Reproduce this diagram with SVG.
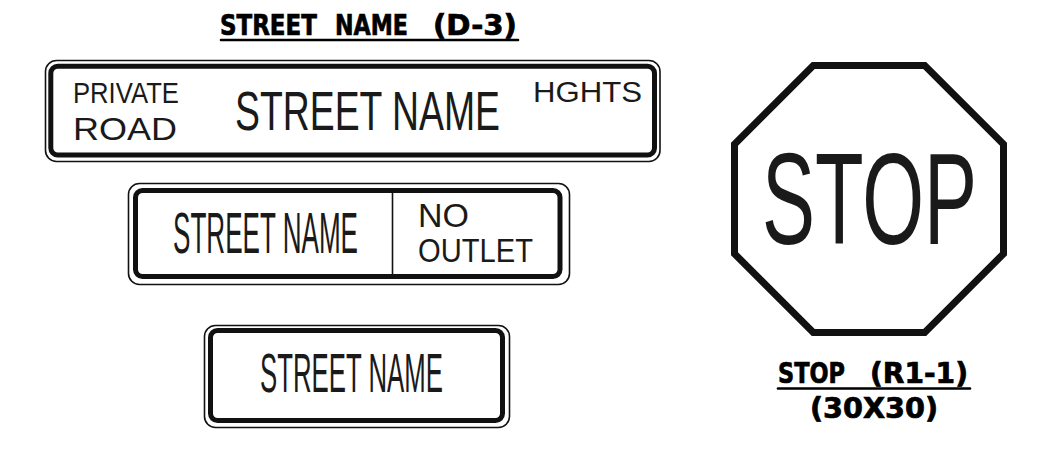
<svg xmlns="http://www.w3.org/2000/svg" width="1039" height="461" viewBox="0 0 1039 461">
<style>
.thin{fill:none;stroke:#111;stroke-width:1.6}
.thick{fill:none;stroke:#111;stroke-width:5}
.div{stroke:#111;stroke-width:1.6}
.sign{font-family:"Liberation Sans",Arial,sans-serif;fill:#1a1a1a}
.lbl{font-family:"DejaVu Sans","Liberation Sans",sans-serif;font-weight:bold;fill:#000;stroke:#000;stroke-width:0.7;font-size:27.5px}
.ul{stroke:#000;stroke-width:2.6;stroke-linecap:round}
.oct{fill:#fff;stroke:#111;stroke-width:7;stroke-linejoin:miter}
</style>
<rect width="1039" height="461" fill="#fff"/>
<g id="title">
<text class="lbl" transform="translate(220,35) scale(0.85,1)" textLength="114" lengthAdjust="spacingAndGlyphs">STREET</text>
<text class="lbl" transform="translate(335,35) scale(0.82,1)" textLength="89" lengthAdjust="spacingAndGlyphs">NAME</text>
<text class="lbl" transform="translate(433,35) scale(1.09,1)" textLength="77" lengthAdjust="spacingAndGlyphs">(D-3)</text>
<line class="ul" x1="221" y1="40" x2="518" y2="40"/>
</g>
<g id="sign1">
<rect class="thin" x="45.5" y="60.5" width="614.5" height="101" rx="11"/>
<rect class="thick" x="50.8" y="66.3" width="603.7" height="88.7" rx="7"/>
<text class="sign" font-size="29" transform="translate(73,103) scale(0.854,1)" textLength="124" lengthAdjust="spacingAndGlyphs">PRIVATE</text>
<text class="sign" font-size="31" transform="translate(73,140) scale(1.16,1)" textLength="89.6" lengthAdjust="spacingAndGlyphs">ROAD</text>
<text class="sign" font-size="56" transform="translate(235,130) scale(0.665,1)" textLength="398.5" lengthAdjust="spacingAndGlyphs">STREET NAME</text>
<text class="sign" font-size="30" transform="translate(533,102) scale(1.038,1)" textLength="105" lengthAdjust="spacingAndGlyphs">HGHTS</text>
</g>
<g id="sign2">
<rect class="thin" x="128.5" y="183.5" width="441" height="101" rx="11"/>
<rect class="thick" x="135.5" y="190.5" width="424.5" height="86" rx="7"/>
<line class="div" x1="392.5" y1="193" x2="392.5" y2="275"/>
<text class="sign" font-size="57" transform="translate(173,253) scale(0.456,1)" textLength="405.7" lengthAdjust="spacingAndGlyphs">STREET NAME</text>
<text class="sign" font-size="33" transform="translate(418,227) scale(1.03,1)" textLength="49.5" lengthAdjust="spacingAndGlyphs">NO</text>
<text class="sign" font-size="33" transform="translate(418,262) scale(0.883,1)" textLength="130.2" lengthAdjust="spacingAndGlyphs">OUTLET</text>
</g>
<g id="sign3">
<rect class="thin" x="204.5" y="325.5" width="305" height="102" rx="11"/>
<rect class="thick" x="210.5" y="330.5" width="292" height="90" rx="7"/>
<text class="sign" font-size="55" transform="translate(260,392) scale(0.468,1)" textLength="391" lengthAdjust="spacingAndGlyphs">STREET NAME</text>
</g>
<g id="stop">
<polygon class="oct" points="813.3,65.5 924.7,65.5 1003.5,144.3 1003.5,253.7 924.7,332.5 813.3,332.5 734.5,253.7 734.5,144.3"/>
<text class="sign" font-size="130" transform="translate(762,244) scale(0.607,1)" textLength="354.2" lengthAdjust="spacingAndGlyphs">STOP</text>
</g>
<g id="stop-label">
<text class="lbl" transform="translate(778,383) scale(0.83,1)" textLength="80.7" lengthAdjust="spacingAndGlyphs">STOP</text>
<text class="lbl" transform="translate(870,383) scale(1.04,1)" textLength="94.2" lengthAdjust="spacingAndGlyphs">(R1-1)</text>
<line class="ul" x1="778" y1="388.5" x2="970" y2="388.5"/>
<text class="lbl" transform="translate(810,418) scale(1.06,1)" textLength="120.8" lengthAdjust="spacingAndGlyphs">(30X30)</text>
</g>
<g id="connectors"/>
</svg>
